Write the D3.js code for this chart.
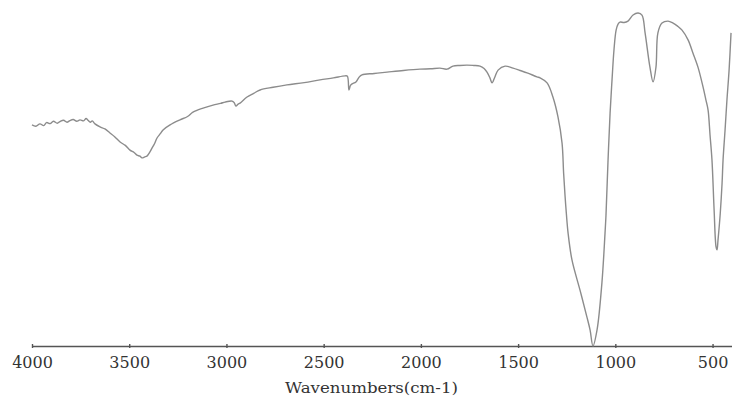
<!DOCTYPE html>
<html>
<head>
<meta charset="utf-8">
<script src="https://cdn.jsdelivr.net/npm/d3@7"></script>
<style>
  html, body { margin: 0; padding: 0; background: #fff; }
  svg { display: block; }
</style>
</head>
<body>
<svg id="chart" width="732" height="402"></svg>
<script>
// FT-IR spectrum: wavenumber (cm-1) vs. relative transmittance (%)
const wavenumbers = [
  4000, 3980, 3959, 3940, 3925, 3907, 3890, 3870, 3856, 3838, 3820, 3805, 3788, 3770, 3753, 3735, 3722, 3712, 3700, 3690, 3676,
  3650, 3625, 3599, 3575, 3547, 3520, 3496, 3475, 3460, 3445, 3434, 3420, 3409, 3395, 3383, 3370, 3357, 3340, 3326,
  3290, 3239, 3200, 3172, 3120, 3069, 3030, 3007, 2971, 2960, 2951, 2940, 2930, 2894, 2860, 2827, 2760, 2689, 2600,
  2519, 2450, 2390, 2378, 2370, 2362, 2354, 2334, 2318, 2303, 2240, 2174, 2090, 2005, 1950, 1902, 1866, 1835, 1800, 1763,
  1730, 1696, 1675, 1660, 1645, 1634, 1620, 1603, 1567, 1526, 1490, 1454, 1403, 1387, 1351, 1321, 1295, 1274, 1266, 1259, 1252,
  1243, 1223, 1182, 1146, 1130, 1115, 1094, 1069, 1053, 1048, 1038, 1027, 1017, 1007, 996, 986, 976, 955, 935, 909, 883, 863,
  847, 822, 806, 791, 781, 760, 729, 703, 680, 657, 626, 601, 575, 549, 534, 523, 513, 503, 492, 482, 477, 472, 461, 451,
  446, 436, 426, 415, 405
];
const transmittance = [
  65.8, 65.4, 66.1, 65.6, 66.5, 66.2, 66.9, 66.3, 66.8, 67.2, 66.6, 67.1, 67.4, 66.9, 67.3, 67.0, 67.7, 67.2, 66.6, 67.0, 66.1,
  65.2, 64.6, 63.4, 62.3, 60.7, 59.7, 58.3, 57.6, 56.8, 56.5, 56.0, 56.3, 56.5, 57.6, 58.9, 60.2, 61.9, 63.2, 64.3,
  65.8, 67.3, 68.3, 69.6, 70.8, 71.7, 72.2, 72.6, 72.9, 72.4, 71.4, 72.0, 72.3, 74.1, 75.2, 76.2, 77.0, 77.7, 78.4,
  79.2, 79.8, 80.4, 80.3, 76.2, 77.6, 78.0, 78.6, 80.0, 80.7, 81.1, 81.5, 82.0, 82.4, 82.5, 82.7, 82.4, 83.3, 83.5, 83.6,
  83.5, 83.3, 82.6, 81.5, 79.8, 78.3, 80.0, 82.1, 83.3, 82.7, 82.0, 81.3, 80.1, 79.8, 78.3, 74.1, 68.2, 60.4, 51.5, 45.0, 39.5,
  33.6, 25.6, 16.7, 8.6, 4.8, 0.0, 4.8, 18.8, 33.6, 39.0, 54.5, 69.3, 79.2, 88.1, 94.0, 95.8, 96.4, 96.3, 96.7, 98.5, 99.1, 98.5,
  93.2, 83.0, 78.6, 83.0, 93.2, 96.1, 96.7, 96.1, 95.2, 94.0, 91.1, 87.2, 83.0, 77.1, 73.2, 70.2, 62.8, 55.4, 40.5, 29.5, 28.6, 31.5, 39.0, 48.5,
  55.4, 64.0, 73.2, 82.1, 93.2
];
const xTicks = [4000, 3500, 3000, 2500, 2000, 1500, 1000, 500];
const xTitle = "Wavenumbers(cm-1)";

const spectrum = wavenumbers.map((w, i) => ({ w, t: transmittance[i] }));

const svg = d3.select("#chart");
const margin = { left: 32, right: 0, top: 10, bottom: 56 };
const W = 732, H = 402;

const x = d3.scaleLinear().domain([4000, 400]).range([margin.left, W - margin.right]);
const y = d3.scaleLinear().domain([0, 100]).range([H - margin.bottom, margin.top]);

// bottom axis
const axis = d3.axisBottom(x)
  .tickValues(xTicks)
  .tickFormat(d3.format("d"))
  .tickSizeInner(2)
  .tickSizeOuter(0)
  .tickPadding(9);

const gx = svg.append("g")
  .attr("transform", `translate(0,${H - margin.bottom})`)
  .call(axis);
gx.select(".domain").attr("stroke", "#555").attr("stroke-width", 1.6);
gx.selectAll(".tick line").attr("stroke", "#555").attr("stroke-width", 1.4).attr("y1", -2);
gx.selectAll(".tick text")
  .attr("fill", "#333")
  .style("font-family", "'DejaVu Serif', serif")
  .style("font-size", "16px");

svg.append("text")
  .attr("x", 285)
  .attr("y", 393)
  .attr("textLength", 173)
  .attr("lengthAdjust", "spacingAndGlyphs")
  .attr("fill", "#333")
  .style("font-family", "'DejaVu Serif', serif")
  .style("font-size", "15px")
  .text(xTitle);

// spectrum trace
const line = d3.line()
  .x(d => x(d.w))
  .y(d => y(d.t))
  .curve(d3.curveCatmullRom.alpha(0.5));

svg.append("path")
  .datum(spectrum)
  .attr("fill", "none")
  .attr("stroke", "#8c8c8c")
  .attr("stroke-width", 1.4)
  .attr("stroke-linejoin", "round")
  .attr("d", line);
</script>
</body>
</html>
